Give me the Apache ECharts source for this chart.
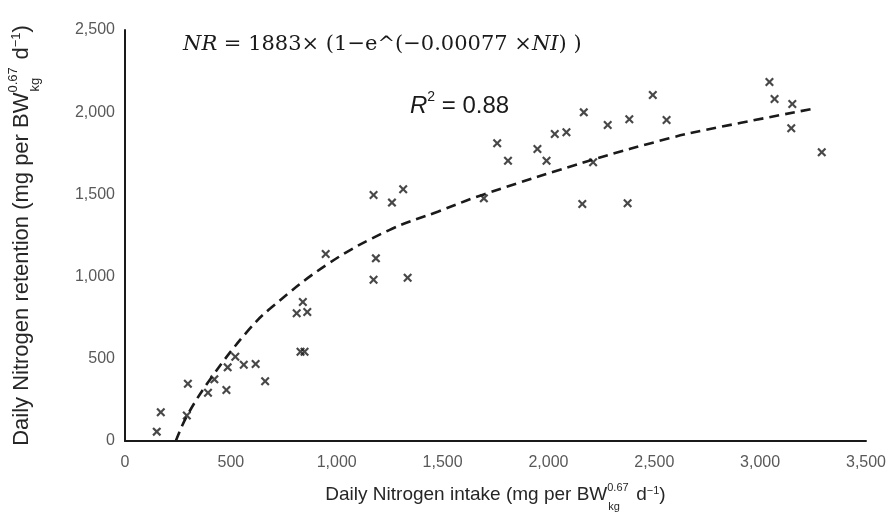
<!DOCTYPE html>
<html><head><meta charset="utf-8">
<script src="https://cdn.jsdelivr.net/npm/echarts@6/dist/echarts.min.js"></script>
<style>html,body{margin:0;padding:0;background:#fff}#c{width:894px;height:519px}</style>
</head><body><div id="c"></div>
<script>
// Observed data: daily nitrogen intake (x) vs retention (y)
const intakeX = [150,169,297,292,392,422,479,485,521,561,617,662,811,840,861,829,848,948,1174,1185,1174,1261,1314,1335,1695,1758,1809,1948,1991,2030,2085,2167,2160,2211,2280,2382,2374,2493,2558,3044,3068,3152,3147,3291];
const retentionY = [57,175,348,155,294,375,310,448,513,464,468,363,777,845,785,543,543,1137,1496,1111,981,1450,1531,993,1476,1811,1705,1776,1705,1867,1878,1999,1442,1695,1922,1957,1446,2105,1953,2184,2080,2050,1902,1756];
// Fitted trend line
const trendX = [240,295,411,577,687,963,1248,1477,1695,2204,2570,2741,3262];
const trendY = [0,158,391,665,807,1081,1283,1395,1500,1709,1841,1892,2024];
const xTicks = {min:0, max:3500, interval:500};
const yTicks = {min:0, max:2500, interval:500};

const scatterData = intakeX.map((x,i)=>[x, retentionY[i]]);
const trendData = trendX.map((x,i)=>[x, trendY[i]]);
const fmt = v => v.toLocaleString('en-US');
const xPath = 'path://M1.7,0L5,3.3L8.3,0L10,1.7L6.7,5L10,8.3L8.3,10L5,6.7L1.7,10L0,8.3L3.3,5L0,1.7Z';

function titleRich(fs){
  const small = Math.round(fs*0.6);
  const base = {color:'#262626', fontFamily:'Liberation Sans', align:'left'};
  return {
    m:Object.assign({}, base, {fontSize:fs, lineHeight:Math.round(fs*1.9), verticalAlign:'middle'}),
    sup:Object.assign({}, base, {fontSize:small, lineHeight:small, verticalAlign:'top', width:1, padding:[Math.round(fs*0.25),0,0,0]}),
    sub:Object.assign({}, base, {fontSize:small, lineHeight:small, verticalAlign:'bottom', width:Math.round(fs*1.45), padding:[0,0,Math.round(fs*0.05),0]}),
    s2:Object.assign({}, base, {fontSize:small, lineHeight:small, verticalAlign:'top', padding:[Math.round(fs*0.4),0,0,0]})
  };
}

const chart = echarts.init(document.getElementById('c'), null, {renderer:'canvas'});
chart.setOption({
  animation:false,
  backgroundColor:'#fff',
  grid:{left:125, right:28, top:30, bottom:78, containLabel:false, outerBoundsMode:'none'},
  xAxis:{type:'value', min:xTicks.min, max:xTicks.max, interval:xTicks.interval,
    axisLine:{show:true, lineStyle:{color:'#1a1a1a', width:2}},
    axisTick:{show:false}, splitLine:{show:false},
    axisLabel:{color:'#595959', fontSize:16, fontFamily:'Liberation Sans', margin:14, formatter:fmt},
    name:'{m|Daily Nitrogen intake (mg per BW}{sup|0.67}{sub|kg}{m|d}{s2|−1}{m|)}',
    nameLocation:'middle', nameGap:36,
    nameTextStyle:{rich:titleRich(19)}
  },
  yAxis:{type:'value', min:yTicks.min, max:yTicks.max, interval:yTicks.interval,
    axisLine:{show:true, lineStyle:{color:'#1a1a1a', width:2}},
    axisTick:{show:false}, splitLine:{show:false},
    axisLabel:{color:'#595959', fontSize:16, fontFamily:'Liberation Sans', margin:10, formatter:fmt},
    name:'{m|Daily Nitrogen retention (mg per BW}{sup|0.67}{sub|kg}{m|d}{s2|−1}{m|)}',
    nameLocation:'middle', nameGap:82, nameRotate:90,
    nameTextStyle:{rich:titleRich(22)}
  },
  series:[
    {type:'scatter', data:scatterData, symbol:xPath, symbolSize:9,
     itemStyle:{color:'#1a1a1a'}, z:3},
    {type:'line', data:trendData, smooth:0.4, showSymbol:false, symbol:'none',
     lineStyle:{color:'#1a1a1a', width:2.6, type:[10,6]}, z:2}
  ],
  graphic:[
    {type:'text', left:183, top:34, style:{
      text:'{i|NR} = 1883× (1−e^(−0.00077 ×{i|NI}) )',
      rich:{i:{fontStyle:'italic', fontSize:21, fontFamily:'DejaVu Serif', fill:'#1a1a1a'}},
      font:'21px "DejaVu Serif"', fill:'#1a1a1a'}},
    {type:'text', left:410, top:90, style:{
      text:'{i|R}{s|2}{n| = 0.88}',
      rich:{
        i:{fontStyle:'italic', fontSize:24, fontFamily:'Liberation Sans', fill:'#1a1a1a', lineHeight:28, verticalAlign:'bottom'},
        s:{fontSize:14, fontFamily:'Liberation Sans', fill:'#1a1a1a', lineHeight:14, verticalAlign:'top'},
        n:{fontSize:24, fontFamily:'Liberation Sans', fill:'#1a1a1a', lineHeight:28, verticalAlign:'bottom'}
      }}}
  ]
});
</script></body></html>
